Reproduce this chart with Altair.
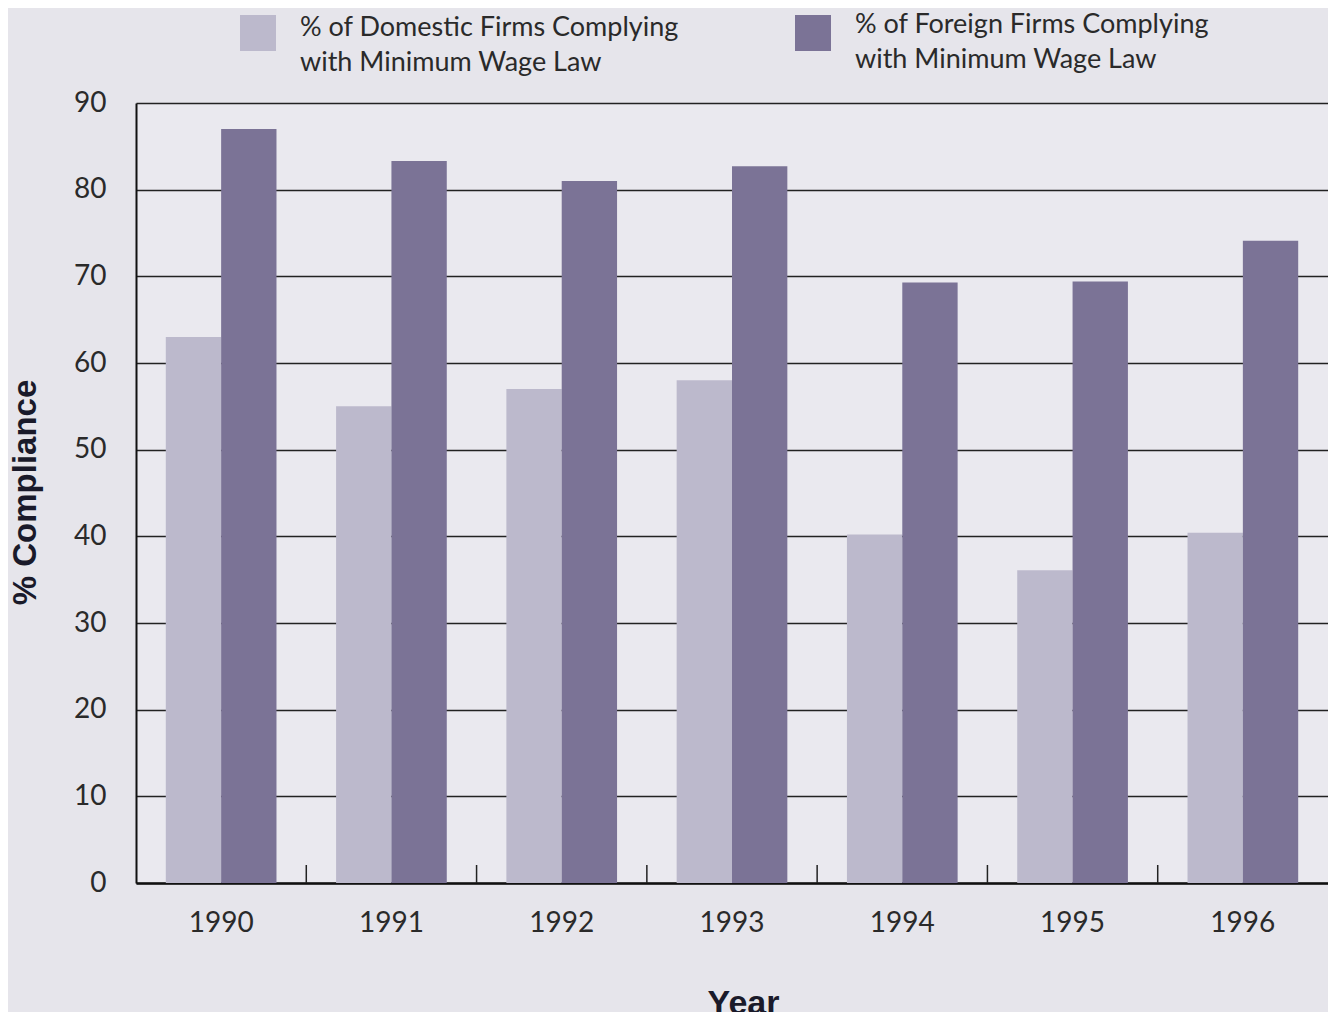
import altair as alt
import pandas as pd

years = ["1990", "1991", "1992", "1993", "1994", "1995", "1996"]
domestic = [63, 55, 57, 58, 40.2, 36.1, 40.4]
foreign = [87, 83.3, 81, 82.7, 69.3, 69.4, 74.1]
series_names = [
    "% of Domestic Firms Complying|with Minimum Wage Law",
    "% of Foreign Firms Complying|with Minimum Wage Law",
]
series_colors = ["#bcb9cc", "#7b7396"]

rows = []
for y, d, f in zip(years, domestic, foreign):
    rows.append({"year": y, "series": series_names[0], "value": d})
    rows.append({"year": y, "series": series_names[1], "value": f})
df = pd.DataFrame(rows)
ticks_df = pd.DataFrame({"year": years[:-1]})

W, H = 1192, 780
STEP = W / len(years)

xscale = alt.Scale(domain=years, paddingInner=0.35, paddingOuter=0.175)

bars = alt.Chart(df).mark_bar().encode(
    x=alt.X(
        "year:N",
        scale=xscale,
        sort=years,
        axis=alt.Axis(
            title="Year",
            labelAngle=0,
            labelFont="Lato",
            labelFontSize=28,
            labelColor="#2a2a2a",
            labelPadding=26,
            ticks=False,
            domainColor="#111111",
            domainWidth=2.5,
            titleFont="Liberation Sans",
            titleFontSize=34,
            titleFontWeight="bold",
            titleColor="#1a1a2a",
            titleX=607,
            titleY=120,
            titleBaseline="middle",
        ),
    ),
    xOffset=alt.XOffset("series:N", sort=series_names,
                        scale=alt.Scale(paddingInner=0, paddingOuter=0)),
    y=alt.Y(
        "value:Q",
        scale=alt.Scale(domain=[0, 90], nice=False),
        axis=alt.Axis(
            title="% Compliance",
            values=list(range(0, 91, 10)),
            labelFont="Lato",
            labelFontSize=28,
            labelColor="#2a2a2a",
            labelPadding=30,
            ticks=False,
            grid=True,
            gridColor="#222222",
            gridWidth=1.3,
            domainColor="#111111",
            domainWidth=2,
            titleFont="Liberation Sans",
            titleFontSize=33,
            titleFontWeight="bold",
            titleColor="#1a1a2a",
            titleX=-111,
            titleY=389,
            titleBaseline="middle",
        ),
    ),
    color=alt.Color(
        "series:N",
        sort=series_names,
        scale=alt.Scale(domain=series_names, range=series_colors),
        legend=alt.Legend(
            title=None,
            orient="none",
            legendX=104,
            legendY=-88,
            direction="horizontal",
            symbolType="square",
            symbolSize=1296,
            symbolStrokeWidth=0,
            symbolOpacity=1,
            labelExpr="''",
            labelFontSize=1,
            labelOffset=0,
            columnPadding=519,
            padding=0,
        ),
    ),
)

tick_rules = alt.Chart(ticks_df).mark_rule(
    color="#222222", strokeWidth=1.5, xOffset=STEP / 2
).encode(
    x=alt.X("year:N", scale=xscale, sort=years),
    y=alt.value(H),
    y2=alt.value(H - 18),
)

label_style = dict(
    font="Lato",
    fontSize=27,
    color="#2a2a2a",
    align="left",
    baseline="alphabetic",
    lineBreak="|",
    lineHeight=35,
)
legend_text_dom = alt.Chart().mark_text(**label_style).encode(
    text=alt.datum(series_names[0]),
    x=alt.value(164),
    y=alt.value(-67),
)
legend_text_for = alt.Chart().mark_text(**label_style).encode(
    text=alt.datum(series_names[1]),
    x=alt.value(719),
    y=alt.value(-70),
)

chart = alt.layer(bars, tick_rules, legend_text_dom, legend_text_for).properties(
    width=W,
    height=H,
    autosize=alt.AutoSizeParams(type="none"),
    padding={"left": 128, "top": 95, "right": 0, "bottom": 129},
).configure(
    background="#e6e5eb",
).configure_view(
    fill="#eae9ef",
    stroke=None,
)

chart.save("out.html", embed_options={"renderer": "svg", "actions": False})
